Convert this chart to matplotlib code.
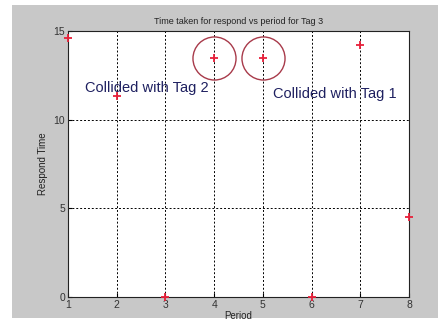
import numpy as np
import matplotlib
matplotlib.use('Agg')
import matplotlib.pyplot as plt
from matplotlib.patches import Rectangle

plt.rcParams['font.family'] = ['Liberation Sans', 'DejaVu Sans']

# Values
period = [1, 2, 3, 4, 5, 6, 7, 8]
respond_time = [14.6, 11.35, 0, 13.45, 13.45, 0, 14.2, 4.5]
# points that collided (circled)
circled_period = [4, 5]
circled_time = [13.45, 13.45]

fig = plt.figure(figsize=(4.38, 3.26), dpi=100)
fig.patch.set_facecolor('white')
# grey matlab-ish figure background
fig.patches.append(Rectangle((12/438, 8/326), 1 - 12/438, 313/326,
                             transform=fig.transFigure, facecolor='#c8c8c8',
                             edgecolor='none', zorder=-1))

ax = fig.add_axes([68/438, 1 - 297/326, (409 - 68)/438, (297 - 31)/326])
ax.set_facecolor('white')

ax.plot(period, respond_time, '+', color='#e8203a', markersize=5.5, mew=1.3, clip_on=False, zorder=5)
ax.plot(circled_period, circled_time, 'o', mfc='none', mec='#a83a4a', markersize=31, mew=1.0, zorder=4)

ax.text(2.62, 11.8, 'Collided with Tag 2', color='#1e2060', fontsize=10.5, ha='center', va='center')
ax.text(6.48, 11.45, 'Collided with Tag 1', color='#1e2060', fontsize=10.5, ha='center', va='center')

ax.set_xlim(1, 8)
ax.set_ylim(0, 15)
ax.set_xticks(range(1, 9))
ax.set_yticks([0, 5, 10, 15])
ax.grid(True, color='black', linestyle=(0, (2, 2)), linewidth=0.7)
ax.tick_params(direction='in', length=3, labelsize=7.5, labelcolor='#333333', pad=2)
for s in ax.spines.values():
    s.set_linewidth(0.8)
    s.set_color('#222222')

ax.set_title('Time taken for respond vs period for Tag 3', fontsize=6.5, color='#222222', pad=5)
ax.set_xlabel('Period', fontsize=7, color='#222222', labelpad=1)
ax.set_ylabel('Respond Time', fontsize=7, color='#222222', labelpad=4)

fig.savefig('out.png', dpi=100)
